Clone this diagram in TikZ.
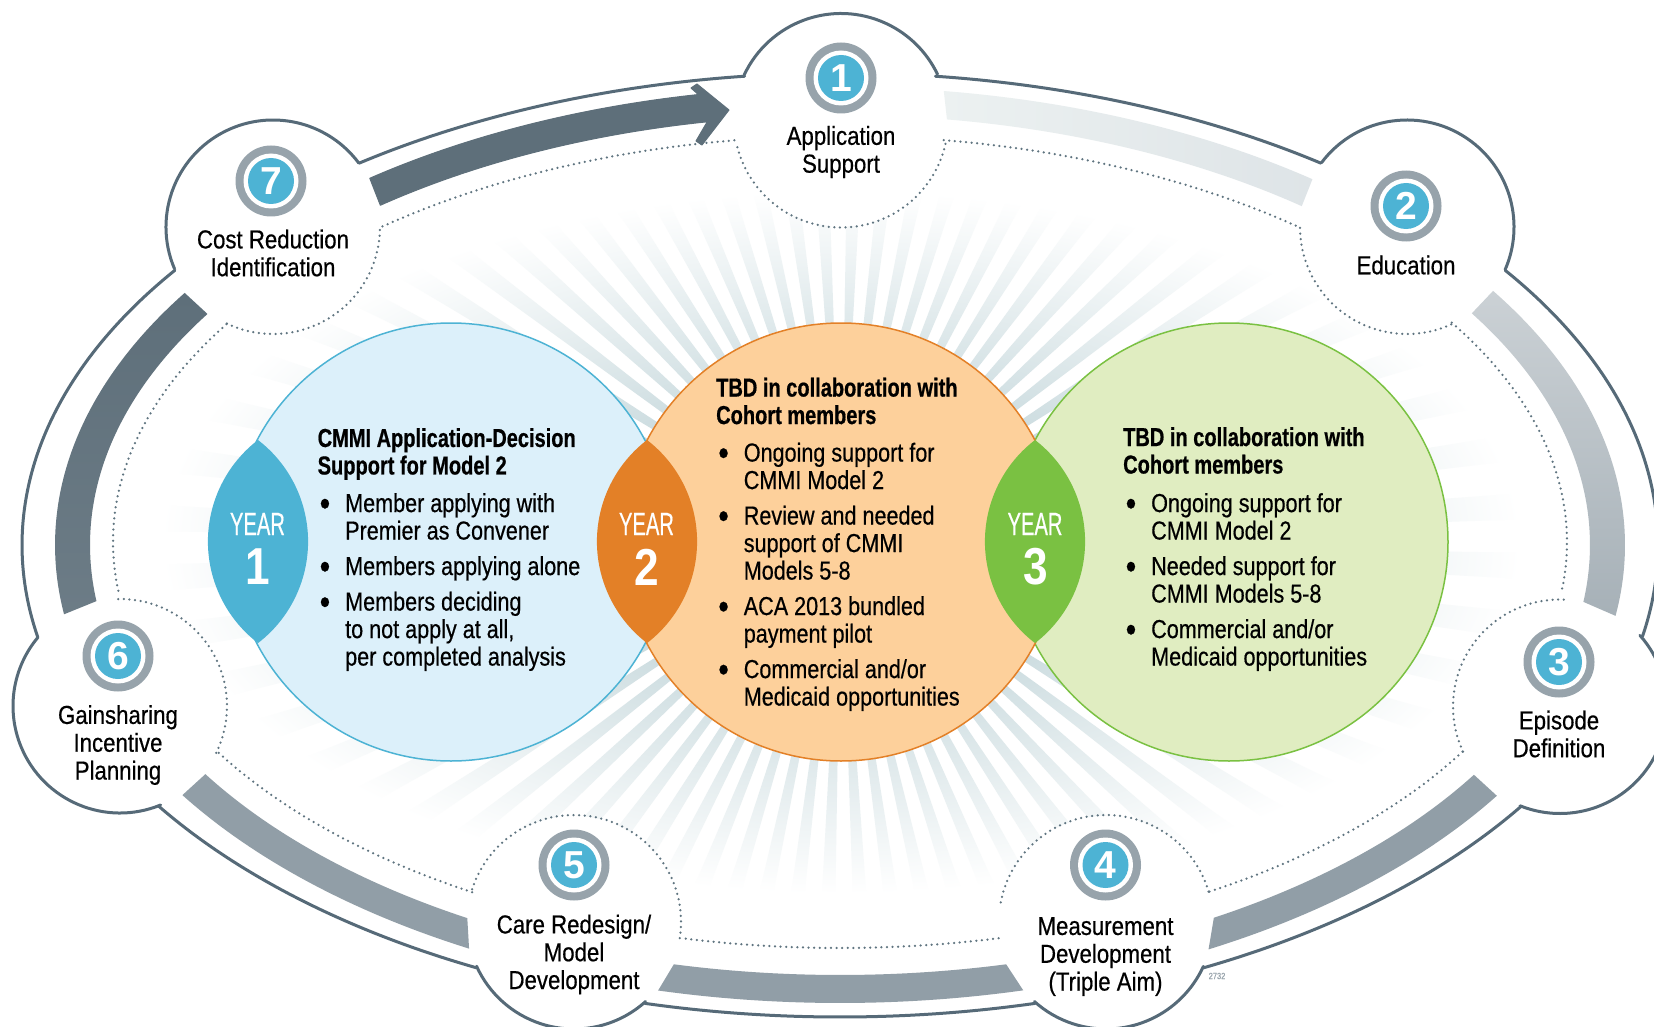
\documentclass[tikz,border=0pt]{standalone}
\usepackage{fontspec}
\setmainfont{Liberation Sans}[FakeStretch=0.83,FakeBold=0.5]
\newfontfamily\digfont{Liberation Sans}
\newfontfamily\lblfont{Liberation Sans}[FakeStretch=0.855,FakeBold=0.5]
\newfontfamily\hdrfont{Liberation Sans Bold}[FakeStretch=0.77,FakeBold=0.6]
\newfontfamily\yearfont{Liberation Sans}[FakeStretch=0.63,FakeBold=0.4]
\newfontfamily\ynfont{Liberation Sans Bold}[FakeStretch=0.85]
\definecolor{outl}{HTML}{566A78}
\definecolor{dotc}{HTML}{5F7480}
\definecolor{ringg}{HTML}{97A3AB}
\definecolor{blueb}{HTML}{4DB3D4}
\definecolor{bluef}{HTML}{DCF0FA}
\definecolor{orab}{HTML}{E38027}
\definecolor{oraf}{HTML}{FDD09B}
\definecolor{greb}{HTML}{7AC142}
\definecolor{gref}{HTML}{E0EDC1}
\definecolor{raybase}{HTML}{A9C4CA}
\definecolor{bandc}{HTML}{919EA7}
\definecolor{arrowc}{HTML}{5E6F7A}
\definecolor{bandla}{HTML}{ECF1F1}
\definecolor{bandlb}{HTML}{DEE4E7}
\pgfdeclareradialshading{rayfade}{\pgfpointorigin}{color(0bp)=(raybase); color(25bp)=(white); color(50bp)=(white)}
\tikzset{
  outerline/.style={draw=outl,line width=3pt,line cap=round},
  dotline/.style={draw=dotc,line width=2.5pt,line cap=round,dash pattern=on 0pt off 5.6pt},
  band/.style={fill=bandc,draw=none},
  lbl/.style={font=\fontsize{26}{27.8}\lblfont,align=center,inner sep=0pt,text=black},
  hdr/.style={font=\fontsize{26}{27.5}\hdrfont,align=left,inner sep=0pt,anchor=west,text=black},
  body/.style={font=\fontsize{26}{27.5}\selectfont,align=left,inner sep=0pt,anchor=north west,text=black},
  ringo/.style={circle,fill=ringg,minimum size=71pt,inner sep=0pt},
  ringw/.style={circle,fill=white,minimum size=55pt,inner sep=0pt},
  ringb/.style={circle,fill=blueb,minimum size=46pt,inner sep=0pt,text=white,font=\fontsize{39}{39}\digfont\bfseries},
  yr/.style={font=\fontsize{32}{32}\yearfont,text=white,inner sep=0pt},
  yn/.style={font=\fontsize{52}{52}\ynfont,text=white,inner sep=0pt},
}
\newcommand{\lensat}[2]{\fill[#2] (#1,440) arc[start angle=-127.5,end angle=-232.5,radius=128pt] arc[start angle=52.5,end angle=-52.5,radius=128pt] -- cycle;}
\newcommand{\badge}[4]{\node[ringo] (#1o) at (#2,#3) {};\node[ringw] (#1w) at (#2,#3) {};\node[ringb] (#1b) at (#2,#3) {#4};}
\newcommand{\bul}{\llap{\raisebox{-3.6pt}{\fontsize{36}{36}\selectfont•}\hspace{15pt}}}
% arc of a lobe circle: style, cx, cy, from, to
\newcommand{\lobe}[5]{\draw[#1] ([shift={(#2,#3)}]#4:107pt) arc[start angle=#4,end angle=#5,radius=107pt];}
% outer and inner outline ellipses
\newcommand{\outerarc}[2]{\draw[outerline] ([shift={(840,545)}]#1:818pt and 472pt) arc[start angle=#1,end angle=#2,x radius=818pt,y radius=472pt];}
\newcommand{\dotarc}[2]{\draw[dotline] ([shift={(840,542)}]#1:727pt and 406pt) arc[start angle=#1,end angle=#2,x radius=727pt,y radius=406pt];}
% band path: outer from/to, inner to/from
\newcommand{\bandpath}[4]{([shift={(840,545)}]#1:785pt and 458pt) arc[start angle=#1,end angle=#2,x radius=785pt,y radius=458pt] -- ([shift={(840,545)}]#3:750pt and 430pt) arc[start angle=#3,end angle=#4,x radius=750pt,y radius=430pt] -- cycle}
\begin{document}
\begin{tikzpicture}[x=1pt,y=1pt,yscale=-1]
\useasboundingbox (0,0) rectangle (1654,1027);
\clip (0,0) rectangle (1654,1027);
\fill[white] (0,0) rectangle (1654,1027);
% rays
\begin{scope}[shift={(841,542)}]
  \clip \foreach \a in {2,7,...,357} { (0,0) -- ({\a-1.1}:900pt) -- ({\a+1.1}:900pt) -- cycle };
  \shade[shading=rayfade] (0,0) ellipse[x radius=680pt,y radius=352pt];
\end{scope}
\foreach \cx/\cy in {841/120.5,1407/227,1560/706.5,1106/922,574/922,120/706,273/227}
  \fill[white] (\cx,\cy) circle[radius=106pt];
% outer outline
\lobe{outerline}{841}{120.5}{-154.9}{-25.6}
\outerarc{-83.3}{-54}
\lobe{outerline}{1407}{227}{-143}{23.5}
\outerarc{-35.6}{11.2}
\lobe{outerline}{1560}{706.5}{-41.7}{111.9}
\outerarc{33.6}{63.6}
\lobe{outerline}{1106}{922}{24.5}{132}
\outerarc{76.2}{103.8}
\lobe{outerline}{574}{922}{48}{155.6}
\outerarc{116.4}{146.4}
\lobe{outerline}{120}{706}{67.7}{220}
\outerarc{168.8}{215.6}
\lobe{outerline}{273}{227}{157}{323.3}
\outerarc{234}{263.3}
% dotted inner line
\lobe{dotline}{841}{120.5}{12.6}{167.4}
\dotarc{-81.8}{-51}
\lobe{dotline}{1407}{227}{179.5}{64.9}
\dotarc{-32.7}{6.9}
\lobe{dotline}{1560}{706.5}{-88}{-205}
\dotarc{31.1}{59.7}
\lobe{dotline}{1106}{922}{-16.5}{-171.5}
\dotarc{77.4}{102.6}
\lobe{dotline}{574}{922}{8.7}{-164}
\dotarc{120.4}{149}
\lobe{dotline}{120}{706}{26}{-91.6}
\dotarc{173.1}{212.7}
\lobe{dotline}{273}{227}{115.6}{0.5}
\dotarc{231}{261.8}
% bands
\shade[left color=bandla,right color=bandlb] \bandpath{-82.4}{-53}{-52}{-81.8};
\shade[top color=ringg!50,bottom color=ringg!85] \bandpath{-33.7}{8.9}{7.6}{-32.6};
\fill[band] \bandpath{33.2}{62}{60.1}{32.3};
\fill[band] \bandpath{76.5}{103.4}{102.8}{77.2};
\fill[band] \bandpath{118.2}{146.9}{147.8}{119.8};
\shade[top color=arrowc,bottom color=arrowc!75!ringg] \bandpath{171.3}{213.4}{212.5}{172.5};
\fill[arrowc,draw=arrowc,line width=1pt,line join=round] ([shift={(840,545)}]233.2:785pt and 458pt) arc[start angle=233.2,end angle=259.6,x radius=785pt,y radius=458pt] -- (691,88) -- (697,84) -- (729,110) -- (702,145) -- (696,141) -- ([shift={(840,545)}]259.8:750pt and 430pt) arc[start angle=259.8,end angle=232.2,x radius=750pt,y radius=430pt] -- cycle;
% big circles
\fill[bluef,draw=blueb,line width=1.5pt] (451,542) circle[radius=219pt];
\fill[gref,draw=greb,line width=1.5pt] (1229,542) circle[radius=219pt];
\fill[oraf,draw=orab,line width=1.5pt] (841,542) circle[radius=219pt];
\lensat{258}{blueb}
\lensat{647}{orab}
\lensat{1035}{greb}
\node[yr] (y1) at (257.5,524) {YEAR};
\node[yn] (n1) at (257.5,567) {1};
\node[yr] (y2) at (646.5,524) {YEAR};
\node[yn] (n2) at (646.5,567) {2};
\node[yr] (y3) at (1035,524) {YEAR};
\node[yn] (n3) at (1036,567) {3};
% badges
\badge{a}{841}{78}{1}
\badge{b}{1406}{206}{2}
\badge{c}{1559}{662}{3}
\badge{d}{1105.5}{865}{4}
\badge{e}{574}{865}{5}
\badge{f}{118}{656}{6}
\badge{g}{271}{181}{7}
% labels
\node[lbl] (la) at (841,152) {Application\\Support};
\node[lbl] (lb) at (1406,265) {Education};
\node[lbl] (lc) at (1559,734) {Episode\\Definition};
\node[lbl] (ld) at (1105.5,956.5) {Measurement\\Development\\(Triple Aim)};
\node[lbl] (le) at (574,954.5) {Care Redesign/\\Model\\Development};
\node[lbl] (lf) at (118,745) {Gainsharing\\Incentive\\Planning};
\node[lbl] (lg) at (273,253) {Cost Reduction\\Identification};
% text blocks
\node[hdr] (h1) at (317.5,454) {CMMI Application-Decision\\Support for Model 2};
\node[body] (b1) at (345,493) {\bul Member applying with\\Premier as Convener\\[8pt]\bul Members applying alone\\[8pt]\bul Members deciding\\to not apply at all,\\per completed analysis};
\node[hdr] (h2) at (716,401) {TBD in collaboration with\\Cohort members};
\node[body] (b2) at (743.6,442.5) {\bul Ongoing support for\\CMMI Model 2\\[8pt]\bul Review and needed\\support of CMMI\\Models 5-8\\[8pt]\bul ACA 2013 bundled\\payment pilot\\[8pt]\bul Commercial and/or\\Medicaid opportunities};
\node[hdr] (h3) at (1123,450.5) {TBD in collaboration with\\Cohort members};
\node[body] (b3) at (1151,493) {\bul Ongoing support for\\CMMI Model 2\\[8pt]\bul Needed support for\\CMMI Models 5-8\\[8pt]\bul Commercial and/or\\Medicaid opportunities};
\node[font=\fontsize{9}{9}\selectfont,text=ringg,inner sep=0pt] (code) at (1217,976) {2732};
\end{tikzpicture}
\end{document}
